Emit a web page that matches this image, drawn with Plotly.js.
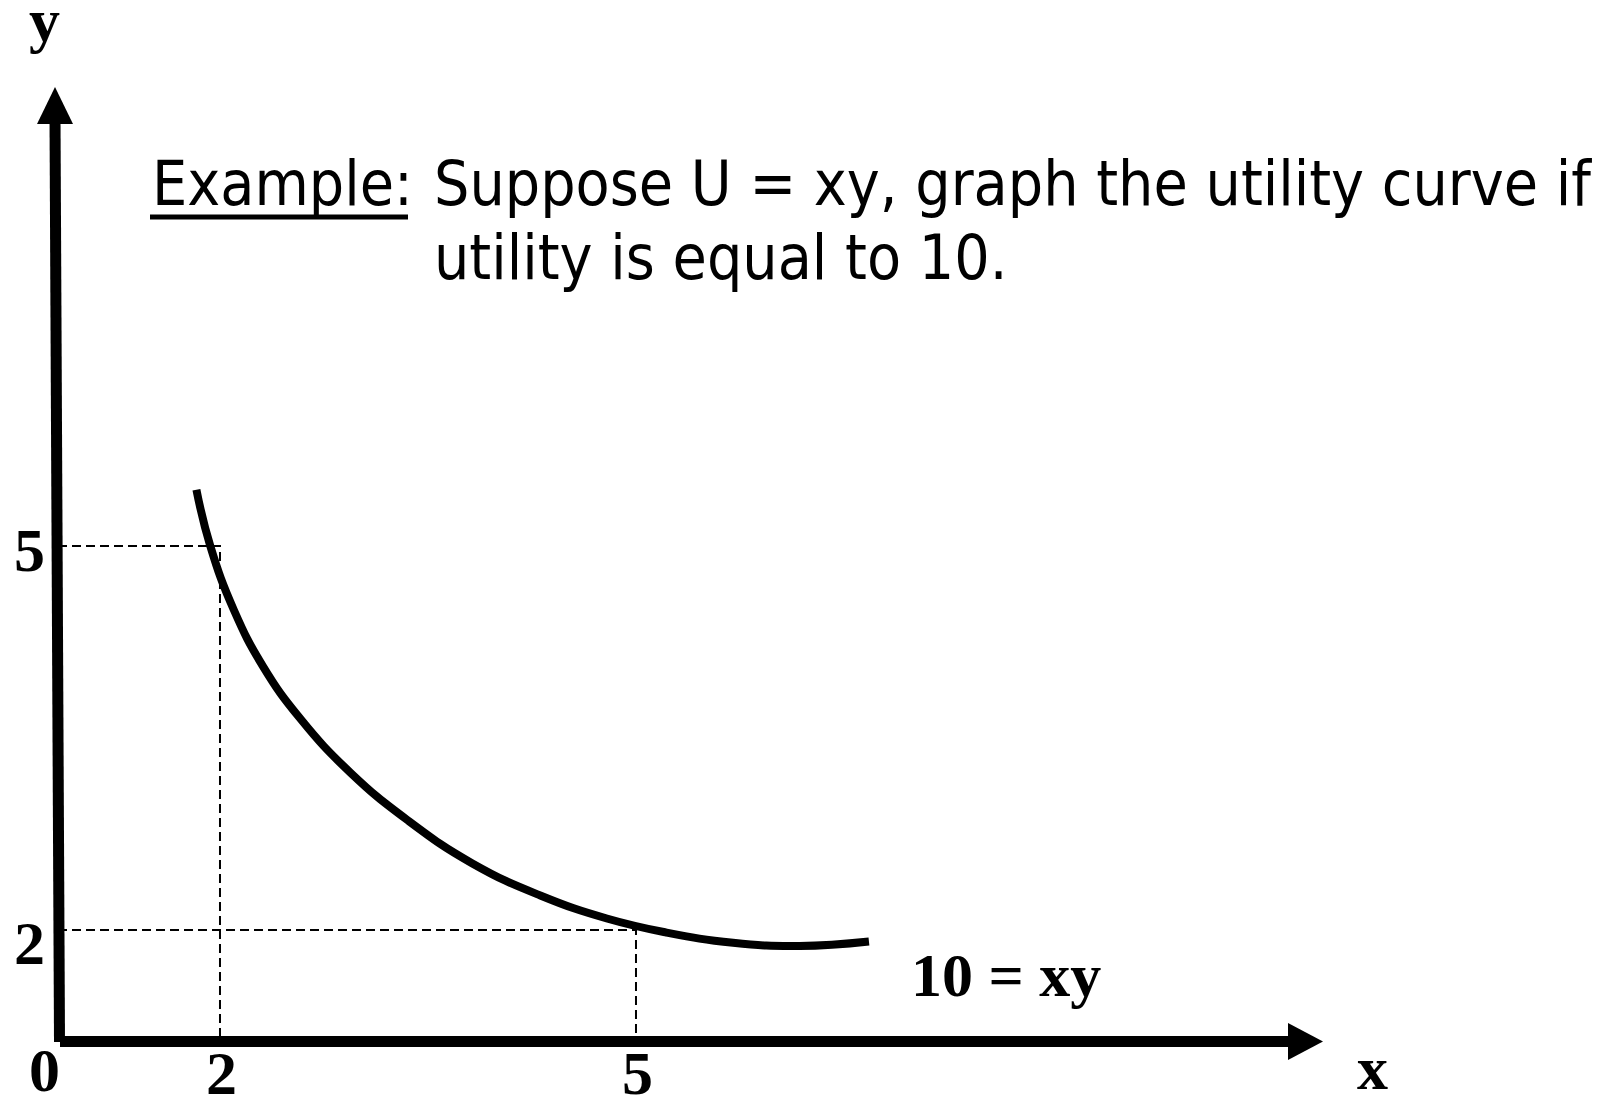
<!DOCTYPE html>
<html>
<head>
<meta charset="utf-8">
<script src="https://cdn.plot.ly/plotly-3.0.1.min.js"></script>
<style>html,body{margin:0;padding:0;background:#fff;}#chart{width:1612px;height:1101px;}</style>
</head>
<body>
<div id="chart"></div>
<script>
// ---- data ----
const curveX = [1.83, 1.93, 2.10, 2.31, 2.58, 2.94, 3.35, 3.82, 4.31, 4.79, 5.22, 5.70, 6.18, 6.68];
const curveY = [5.44, 5.00, 4.50, 4.06, 3.65, 3.23, 2.86, 2.52, 2.27, 2.09, 1.98, 1.90, 1.875, 1.91];
const guideX = [2, 5];          // x values of the marked points
const guideY = [5, 2];          // y values of the marked points
const xTickLabels = ['2', '5'];
const yTickLabels = ['5', '2'];
const originLabel = '0';
const xAxisLabel = 'x';
const yAxisLabel = 'y';
const curveLabel = '10 = xy';
const titleLead = 'Example:';
const titleLine1 = 'Suppose U = xy, graph the utility curve if';
const titleLine2 = 'utility is equal to 10.';

// ---- geometry ----
const W = 1612, H = 1101;
const XR = [0.4135, 12.0385];
const YR = [0.6641, 9.2656];
const px = x => x / W;
const py = y => 1 - y / H;
const dataX = p => XR[0] + p / W * (XR[1] - XR[0]);
const dataY = p => YR[1] - p / H * (YR[1] - YR[0]);
const axisXpix = 58, axisYpix = 1041;
const ox = dataX(axisXpix), oy = dataY(axisYpix);

const sansFont = 'DejaVu Sans Condensed, Noto Sans, sans-serif';
const serifFont = 'Liberation Serif, DejaVu Serif, serif';
const serifSize = 62;

const traces = [];
// dashed guides
for (let i = 0; i < guideX.length; i++) {
  traces.push({
    x: [ox, guideX[i], guideX[i]],
    y: [guideY[i], guideY[i], oy],
    mode: 'lines', type: 'scatter', hoverinfo: 'skip',
    line: {color: '#000', width: 2, dash: '9px,5px'}
  });
}
// indifference curve
traces.push({
  x: curveX, y: curveY, mode: 'lines', type: 'scatter', hoverinfo: 'skip',
  line: {color: '#000', width: 8, shape: 'spline', smoothing: 1.3}
});

const shapes = [
  // y axis shaft
  {type: 'line', xref: 'paper', yref: 'paper', x0: px(55), y0: py(118), x1: px(59.5), y1: py(1042), line: {color: '#000', width: 11}},
  // x axis shaft
  {type: 'line', xref: 'paper', yref: 'paper', x0: px(60), y0: py(1041.5), x1: px(1292), y1: py(1041.5), line: {color: '#000', width: 11}},
  // y arrowhead
  {type: 'path', xref: 'paper', yref: 'paper', fillcolor: '#000', line: {width: 0},
   path: `M ${px(37)} ${py(124)} L ${px(73)} ${py(124)} L ${px(55)} ${py(87)} Z`},
  // x arrowhead
  {type: 'path', xref: 'paper', yref: 'paper', fillcolor: '#000', line: {width: 0},
   path: `M ${px(1288)} ${py(1023)} L ${px(1288)} ${py(1060)} L ${px(1323)} ${py(1041.5)} Z`},
  // underline of "Example:"
  {type: 'line', xref: 'paper', yref: 'paper', x0: px(150), y0: py(217), x1: px(408), y1: py(217), line: {color: '#000', width: 5}}
];

const serif = {family: serifFont, size: serifSize, color: '#000', weight: 'bold'};
const sans = {family: sansFont, size: 62, color: '#000'};
const annotations = [];
function ann(o) { annotations.push(Object.assign({showarrow: false, xanchor: 'center', yanchor: 'middle'}, o)); }

// tick labels
for (let i = 0; i < guideX.length; i++) {
  ann({x: guideX[i], xref: 'x', y: py(1073), yref: 'paper', text: '<b>' + xTickLabels[i] + '</b>', font: serif, xshift: 2});
}
for (let i = 0; i < guideY.length; i++) {
  ann({x: px(29), xref: 'paper', y: guideY[i], yref: 'y', text: '<b>' + yTickLabels[i] + '</b>', font: serif, yshift: i === 0 ? -4 : -13});
}
ann({x: px(44), xref: 'paper', y: py(1070), yref: 'paper', text: '<b>' + originLabel + '</b>', font: serif});
ann({x: px(1372), xref: 'paper', y: py(1068), yref: 'paper', text: '<b>' + xAxisLabel + '</b>', font: serif});
ann({x: px(44), xref: 'paper', y: py(20), yref: 'paper', text: '<b>' + yAxisLabel + '</b>', font: serif});
ann({x: px(1006), xref: 'paper', y: py(975), yref: 'paper', text: '<b>' + curveLabel + '</b>', font: serif});

// title text
ann({x: px(150), xref: 'paper', y: py(183), yref: 'paper', xanchor: 'left', text: titleLead, font: sans});
ann({x: px(432), xref: 'paper', y: py(183), yref: 'paper', xanchor: 'left', text: titleLine1, font: sans});
ann({x: px(432), xref: 'paper', y: py(257), yref: 'paper', xanchor: 'left', text: titleLine2, font: sans});

const layout = {
  width: W, height: H,
  margin: {l: 0, r: 0, t: 0, b: 0, pad: 0},
  paper_bgcolor: '#fff', plot_bgcolor: '#fff',
  showlegend: false,
  xaxis: {range: XR, visible: false, fixedrange: true},
  yaxis: {range: YR, visible: false, fixedrange: true},
  shapes: shapes,
  annotations: annotations
};

Plotly.newPlot('chart', traces, layout, {staticPlot: true, displayModeBar: false});
</script>
</body>
</html>
